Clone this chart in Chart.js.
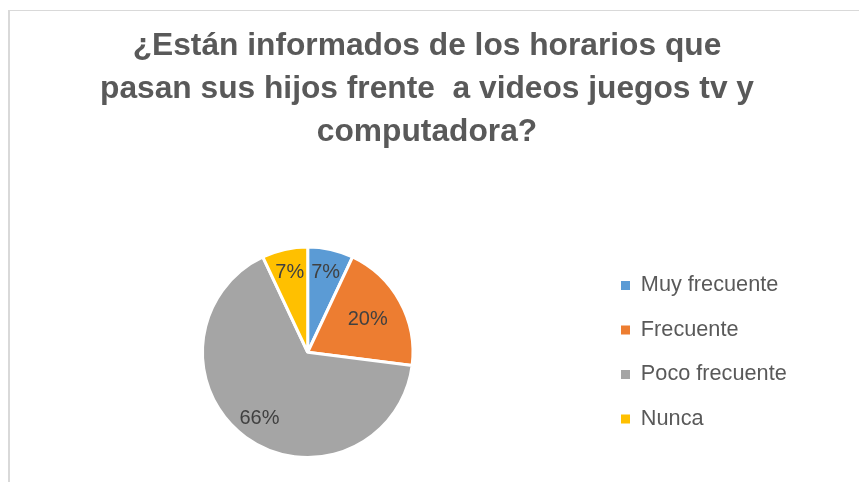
<!DOCTYPE html>
<html><head><meta charset="utf-8">
<script src="https://cdn.jsdelivr.net/npm/chart.js@4.4.1/dist/chart.umd.min.js"></script>
<style>
html,body{margin:0;padding:0;background:#fff;overflow:hidden}
#wrap{position:relative;width:859px;height:482px;overflow:hidden}
#frame{position:absolute;left:8px;top:10px;width:900px;height:500px;border-top:1px solid #d9d9d9;border-left:2px solid #d9d9d9}
canvas{position:absolute;left:0;top:0}
</style></head><body>
<div id="wrap"><div id="frame"></div><canvas id="c" width="859" height="482"></canvas></div>
<script>
const categories = ['Muy frecuente', 'Frecuente', 'Poco frecuente', 'Nunca'];
const values = [7, 20, 66, 7];
const colors = ['#5B9BD5', '#ED7D31', '#A5A5A5', '#FFC000'];
const titleLines = ['¿Están informados de los horarios que', 'pasan sus hijos frente  a videos juegos tv y', 'computadora?'];

const FAMILY = '"Liberation Sans", Arial, sans-serif';
const mctx = document.createElement('canvas').getContext('2d');
function fitSize(text, weight, target) {
  mctx.font = weight + ' 100px ' + FAMILY;
  return 100 * target / mctx.measureText(text).width;
}
const titleSize = fitSize(titleLines[0], 'bold', 589);
const legendSize = fitSize('Poco frecuente', 'normal', 146);
const labelSize = fitSize('20%', 'normal', 40);

const W = 859;
const rowStep = 44.5;
const legPad = rowStep - legendSize;
const boxW = 9;
const legendLeft = 621 - legPad;
const pieCx = 307.7;
const titleCx = 427;
const padLeft = 2 * pieCx - legendLeft;
const padRight = W - (2 * titleCx - padLeft);
const legendWidth = W - padRight - legendLeft;

// make the legend box occupy the wanted width
const legendWidthPlugin = {
  id: 'legendWidth',
  afterInit(chart) {
    const lg = chart.legend;
    if (!lg) return;
    const orig = lg.fit.bind(lg);
    lg.fit = function () { orig(); this.width = legendWidth; };
  }
};

const pieLabels = {
  id: 'pieLabels',
  afterDatasetsDraw(chart, args, opts) {
    const ctx = chart.ctx;
    const meta = chart.getDatasetMeta(0);
    const data = chart.data.datasets[0].data;
    const total = data.reduce((a, b) => a + b, 0);
    meta.data.forEach((arc, i) => {
      const p = arc.getProps(['x', 'y', 'startAngle', 'endAngle', 'outerRadius'], true);
      const mid = (p.startAngle + p.endAngle) / 2;
      const r = p.outerRadius * opts.radii[i];
      ctx.save();
      ctx.font = labelSize + 'px ' + FAMILY;
      ctx.fillStyle = '#404040';
      ctx.textAlign = 'center';
      ctx.textBaseline = 'middle';
      ctx.fillText(Math.round(data[i] / total * 100) + '%', p.x + Math.cos(mid) * r, p.y + Math.sin(mid) * r);
      ctx.restore();
    });
  }
};

const defaultLabels = Chart.overrides.pie.plugins.legend.labels.generateLabels;

new Chart(document.getElementById('c'), {
  type: 'pie',
  data: {
    labels: categories,
    datasets: [{
      data: values,
      backgroundColor: colors,
      borderColor: '#ffffff',
      borderWidth: 3
    }]
  },
  plugins: [legendWidthPlugin, pieLabels],
  options: {
    responsive: false,
    animation: false,
    layout: { padding: { left: padLeft, right: padRight, top: 0, bottom: 23 } },
    plugins: {
      tooltip: { enabled: false },
      title: {
        display: true,
        text: titleLines,
        color: '#595959',
        font: { family: FAMILY, size: titleSize, weight: 'bold', lineHeight: '43px' },
        padding: { top: 24.5, bottom: 92 }
      },
      legend: {
        position: 'right',
        fullSize: false,
        labels: {
          boxWidth: boxW,
          boxHeight: boxW,
          padding: legPad,
          color: '#595959',
          font: { family: FAMILY, size: legendSize },
          generateLabels(chart) {
            return defaultLabels(chart).map(item => Object.assign(item, { lineWidth: 0, strokeStyle: 'rgba(0,0,0,0)' }));
          }
        }
      },
      pieLabels: { radii: [0.78, 0.65, 0.78, 0.78] }
    }
  }
});
</script>
</body></html>
